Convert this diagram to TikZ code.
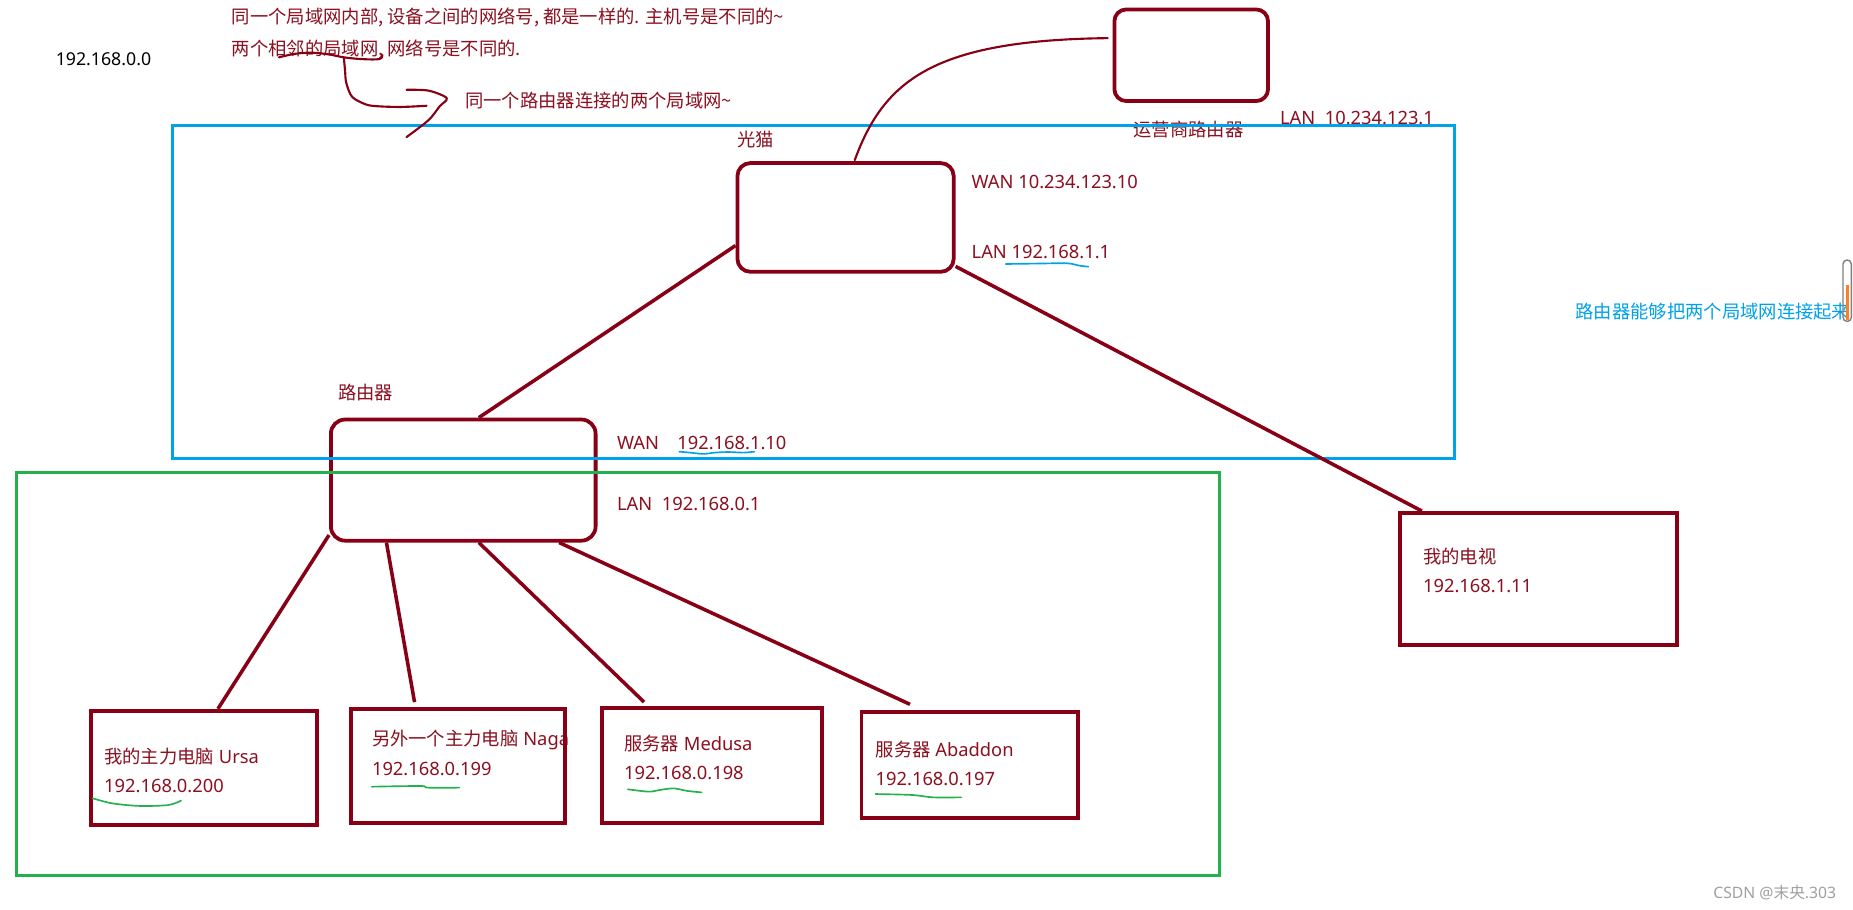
\documentclass[tikz,border=0pt]{standalone}
\usepackage{fontspec}
\setmainfont{Noto Sans}
\newfontfamily\cjk{Noto Sans CJK SC}
\usetikzlibrary{calc}
\definecolor{dred}{HTML}{880015}
\definecolor{tred}{HTML}{8B1020}
\definecolor{pblue}{HTML}{00A2E8}
\definecolor{pgreen}{HTML}{22B14C}
\definecolor{porange}{HTML}{FF7F27}
\begin{document}
\begin{tikzpicture}[x=1pt,y=-1pt,
  devbox/.style={draw=dred, line width=3.2pt, inner sep=0pt},
  roundbox/.style={devbox, rounded corners=11pt},
  zonebox/.style={line width=2.8pt, inner sep=0pt},
  link/.style={draw=dred, line width=3pt},
  lbl/.style={text=tred, font=\fontsize{15.5}{18}\selectfont, anchor=west, inner sep=0pt},
  ink/.style={draw=dred, line width=1.8pt, line cap=round, line join=round},
  bluescrib/.style={draw=pblue, line width=1.4pt, line cap=round},
  greenscrib/.style={draw=pgreen, line width=1.4pt, line cap=round}]
\fill[white] (0,0) rectangle (1568,770);
\useasboundingbox (0,0) rectangle (1568,770);

% texts
\node[lbl, text=black, font=\fontsize{15}{18}\selectfont] (net) at (47,50) {192.168.0.0};
\node[lbl] (note1) at (196,15) {\cjk 同一个局域网内部, 设备之间的网络号, 都是一样的. 主机号是不同的\textasciitilde};
\node[lbl] (note2) at (196,42) {\cjk 两个相邻的局域网, 网络号是不同的.};
\node[lbl] (note3) at (393.5,85) {\cjk 同一个路由器连接的两个局域网\textasciitilde};
\node[lbl] (oplbl) at (959,110) {\cjk 运营商路由器};
\node[lbl] (oplan) at (1083,100) {LAN~~10.234.123.1};
\node[lbl] (modemlbl) at (624,118) {\cjk 光猫};
\node[lbl] (modemwan) at (822,154) {WAN 10.234.123.10};
\node[lbl] (modemlan) at (822,213.5) {LAN 192.168.1.1};
\node[lbl] (routerlbl) at (286,332) {\cjk 路由器};
\node[lbl] (routerwan) at (522,375) {WAN\quad 192.168.1.10};
\node[lbl] (routerlan) at (522,426.5) {LAN~~192.168.0.1};
\node[lbl] (tvname) at (1204,471) {\cjk 我的电视};
\node[lbl] (tvip) at (1204,496) {192.168.1.11};
\node[lbl, text=pblue] (rnote) at (1333,264) {\cjk 路由器能够把两个局域网连接起来};
\node[lbl] (ursaname) at (88,640) {{\cjk 我的主力电脑} Ursa};
\node[lbl] (ursaip) at (88,665) {192.168.0.200};
\node[lbl] (naganame) at (314.6,626) {{\cjk 另外一个主力电脑} Naga};
\node[lbl] (nagaip) at (314.6,651) {192.168.0.199};
\node[lbl] (medname) at (528,629) {{\cjk 服务器} Medusa};
\node[lbl] (medip) at (528,654.4) {192.168.0.198};
\node[lbl] (abname) at (740.8,634.6) {{\cjk 服务器} Abaddon};
\node[lbl] (abip) at (740.8,659.5) {192.168.0.197};
\node[lbl, text={rgb,255:red,160;green,160;blue,160}, font=\fontsize{13.3}{16}\selectfont] (wm) at (1449.6,755.3) {CSDN @{\cjk 末央}.303};

% device boxes
\node[roundbox, rounded corners=10pt, minimum width=130pt, minimum height=77.5pt] (op) at (1008,46.75) {};
\node[roundbox, minimum width=183pt, minimum height=92pt] (modem) at (715.5,184) {};
\node[roundbox, rounded corners=12pt, minimum width=224pt, minimum height=102.5pt] (router) at (392,406.25) {};
\node[devbox, minimum width=234.5pt, minimum height=112pt] (tv) at (1301.75,490) {};
\node[devbox, minimum width=191.1pt, minimum height=96.6pt] (ursa) at (172.75,649.7) {};
\node[devbox, minimum width=181.6pt, minimum height=96.5pt] (naga) at (387.6,648.45) {};
\node[devbox, minimum width=186.4pt, minimum height=96.7pt] (medusa) at (602.5,647.75) {};
\node[devbox, minimum width=183.4pt, minimum height=90.3pt] (abaddon) at (820.7,647.35) {};

% network zones
\node[zonebox, draw=pblue, minimum width=1085pt, minimum height=282pt] (lanone) at (688.5,247) {};
\node[zonebox, draw=pgreen, minimum width=1018pt, minimum height=341pt] (lanzero) at (523,570.5) {};

% connectors
\draw[link] ($(router.north west)!0.558!(router.north east)$) -- ($(modem.north west)!0.75!(modem.south west)$);
\draw[link] ($(modem.north east)!0.935!(modem.south east)$) -- ($(tv.north west)!0.085!(tv.north east)$);
\draw[link] ($(router.north west)!0.94!(router.south west)$) -- ($(ursa.north west)!0.56!(ursa.north east)$);
\draw[link, shorten >=4.5pt] ($(router.south west)!0.214!(router.south east)$) -- ($(naga.north west)!0.305!(naga.north east)$);
\draw[link, shorten >=5.3pt] ($(router.south west)!0.558!(router.south east)$) -- ($(medusa.north west)!0.217!(medusa.north east)$);
\draw[link, shorten >=11pt] ($(router.south west)!0.857!(router.south east)$) -- ($(abaddon.north west)!0.282!(abaddon.north east)$);
\draw[ink, shorten <=1pt, shorten >=4pt] ($(modem.north west)!0.54!(modem.north east)$) .. controls (748,68) and (790,34) .. ($(op.north west)!0.32!(op.south west)$);

% hand-drawn annotations
\draw[ink] plot[smooth, tension=0.6] coordinates {(236,48.5) (250,45.5) (264,44.6) (278,46) (291,48.5) (306,50) (321,50) (323.5,46.5)};
\draw[ink] plot[smooth] coordinates {(291,49) (292,60) (293,70) (298,82) (310,88.5) (321,90) (340,90.5) (361,89.5)};
\draw[ink] plot[smooth] coordinates {(344,76) (362.7,76.7) (378,83) (372,90) (362.7,101.6) (344,116)};

\draw[bluescrib] plot[smooth] coordinates {(851,223.4) (880,223) (903,222.8) (913.6,224.8) (921,225.7)};
\draw[bluescrib] plot[smooth] coordinates {(574.8,382.2) (583.9,383) (595.2,384.1) (604.9,383) (616.3,382.5) (629.2,383) (638.3,382.2)};

\draw[greenscrib] plot[smooth] coordinates {(78.4,675.5) (95,679.8) (118.7,682) (142.5,681.2) (153.2,677.5)};
\draw[greenscrib] plot[smooth] coordinates {(314.6,665.7) (356.2,665.1) (362,666.5) (388.8,666.5)};
\draw[greenscrib] plot[smooth] coordinates {(531.3,667.9) (549,669.9) (558,668.5) (570,667.1) (581.7,669.3) (593.6,670.5)};
\draw[greenscrib] plot[smooth] coordinates {(740.8,671.9) (771.7,672.7) (789.5,674.7) (813.3,674.7)};

% scrollbar artifact
\draw[gray, line width=1.2pt, rounded corners=3.5pt] (1559.5,220) rectangle (1566.6,272);
\fill[porange] (1561.8,241) rectangle (1564.6,270.5);
\end{tikzpicture}
\end{document}
